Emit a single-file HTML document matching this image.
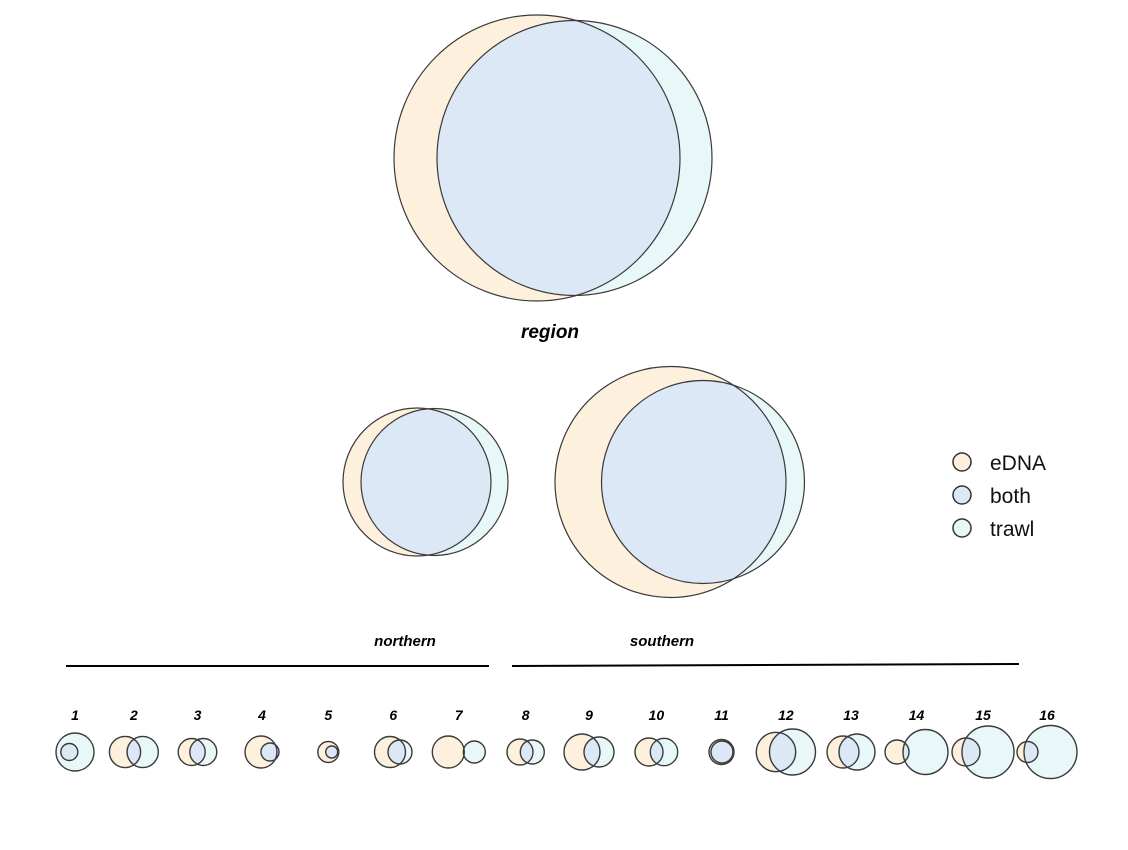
<!DOCTYPE html>
<html><head><meta charset="utf-8">
<style>
html,body{margin:0;padding:0;background:#fff;}
svg{display:block;font-family:"Liberation Sans",sans-serif;}
</style></head>
<body>
<svg id="chart" width="1128" height="850" viewBox="0 0 1128 850">
  <g id="venns"></g>
  <text x="550" y="338" text-anchor="middle" font-size="19" font-weight="bold" font-style="italic" fill="#000">region</text>
  <text x="405" y="646" text-anchor="middle" font-size="15" font-weight="bold" font-style="italic" fill="#000">northern</text>
  <text x="662" y="646" text-anchor="middle" font-size="15" font-weight="bold" font-style="italic" fill="#000">southern</text>
  <line x1="66" y1="666" x2="489" y2="666" stroke="#000" stroke-width="2"/>
  <line x1="512" y1="666" x2="1019" y2="664" stroke="#000" stroke-width="2"/>
  <g>
    <g>
      <circle cx="962" cy="462" r="9" fill="#fdf0dc" stroke="#333" stroke-width="1.5"/>
      <text x="990" y="470" font-size="21" fill="#111">eDNA</text>
    </g>
    <g>
      <circle cx="962" cy="495" r="9" fill="#dce8f5" stroke="#333" stroke-width="1.5"/>
      <text x="990" y="503" font-size="21" fill="#111">both</text>
    </g>
    <g>
      <circle cx="962" cy="528" r="9" fill="#e8f7f8" stroke="#333" stroke-width="1.5"/>
      <text x="990" y="536" font-size="21" fill="#111">trawl</text>
    </g>
  </g>
</svg>
<script>
const names = ["region","northern","southern","1","2","3","4","5","6","7","8","9","10","11","12","13","14","15","16"];
const ednaRadius = [143,74,115.5,8.5,15.6,13.5,16,10.5,15.5,16,13,18,14,12.5,19.7,16,12,14,10.5];
const trawlRadius = [137.5,73.5,101.5,19,15.6,13.5,9,6,12,11,12,15,13.7,11,23,18,22.5,26,26.5];
const ednaX = [537,417,670.5,69.3,125,191.7,261,328.3,390,448.3,520,582,649,721.5,776,843,897,966,1027.5];
const trawlX = [574.5,434.5,703,75,142.7,203.3,270,331.7,400,474.3,532.3,599,664,722,792.5,857,925.5,988,1050.5];
const centerY = [158,482,482,752,752,752,752,752,752,752,752,752,752,752,752,752,752,752,752];
const ns = "http://www.w3.org/2000/svg";
const g = document.getElementById("venns");
const svg = document.getElementById("chart");
const defs = document.createElementNS(ns,"defs");
svg.insertBefore(defs, svg.firstChild);
for (let i=0;i<names.length;i++){
  const grp = document.createElementNS(ns,"g");
  
  
  const cp = document.createElementNS(ns,"clipPath");
  cp.setAttribute("id","clip"+i);
  const cc = document.createElementNS(ns,"circle");
  cc.setAttribute("cx",ednaX[i]);cc.setAttribute("cy",centerY[i]);cc.setAttribute("r",ednaRadius[i]);
  cp.appendChild(cc); defs.appendChild(cp);
  const e = document.createElementNS(ns,"circle");
  
  
  e.setAttribute("cx",ednaX[i]);e.setAttribute("cy",centerY[i]);e.setAttribute("r",ednaRadius[i]);
  e.setAttribute("fill","#fdf0dc");
  const t = document.createElementNS(ns,"circle");
  
  
  t.setAttribute("cx",trawlX[i]);t.setAttribute("cy",centerY[i]);t.setAttribute("r",trawlRadius[i]);
  t.setAttribute("fill","#e8f7f8");
  const b = document.createElementNS(ns,"circle");
  
  
  b.setAttribute("cx",trawlX[i]);b.setAttribute("cy",centerY[i]);b.setAttribute("r",trawlRadius[i]);
  b.setAttribute("fill","#dce8f5");b.setAttribute("clip-path","url(#clip"+i+")");
  const sw = i<3 ? 1.2 : 1.4;
  const eo = e.cloneNode(); eo.setAttribute("fill","none"); eo.setAttribute("stroke","#3a3a3a"); eo.setAttribute("stroke-width",sw);
  
  const to = t.cloneNode(); to.setAttribute("fill","none"); to.setAttribute("stroke","#3a3a3a"); to.setAttribute("stroke-width",sw);
  
  grp.appendChild(e);grp.appendChild(t);grp.appendChild(b);grp.appendChild(eo);grp.appendChild(to);
  if (i>=3){
    const lab = document.createElementNS(ns,"text");
    
    
    lab.setAttribute("x", (Math.min(ednaX[i]-ednaRadius[i],trawlX[i]-trawlRadius[i]) + Math.max(ednaX[i]+ednaRadius[i],trawlX[i]+trawlRadius[i]))/2);
    lab.setAttribute("y", 720);
    lab.setAttribute("text-anchor","middle");
    lab.setAttribute("font-size","14");
    lab.setAttribute("font-weight","bold");
    lab.setAttribute("font-style","italic");
    lab.textContent = names[i];
    grp.appendChild(lab);
  }
  g.appendChild(grp);
}
</script>
</body></html>
